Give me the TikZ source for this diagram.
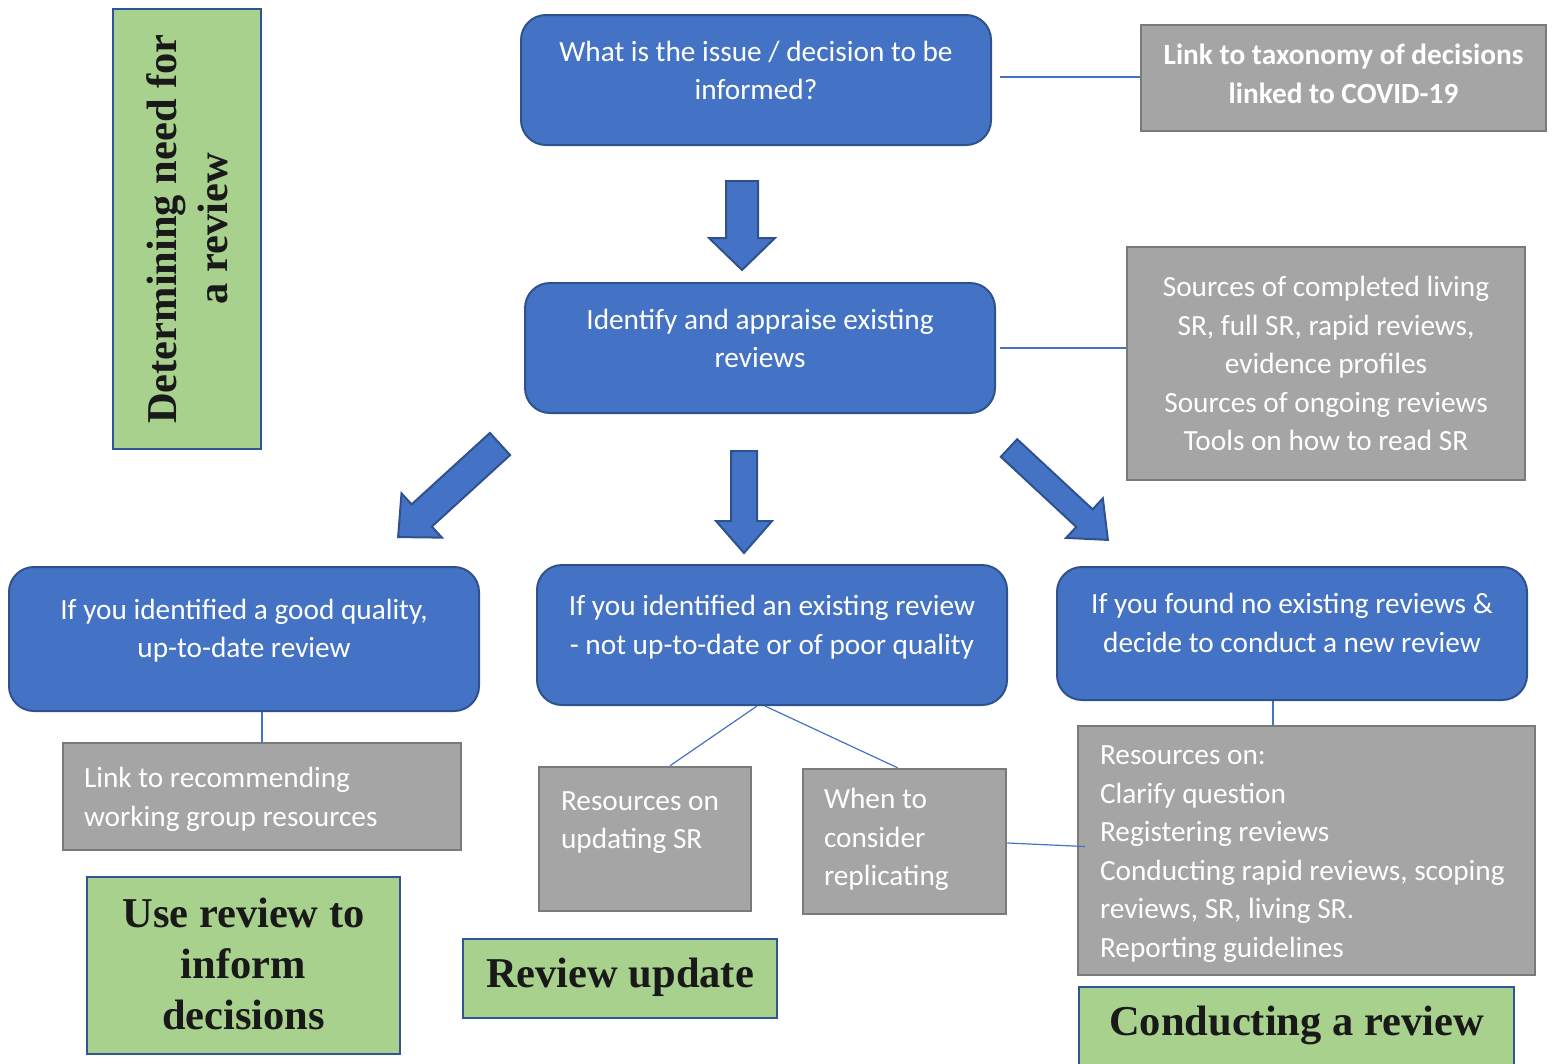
\documentclass[tikz,border=0pt]{standalone}
\usepackage{fontspec}
\setmainfont{Carlito}
\newfontfamily\titlefont{Liberation Serif}
\usetikzlibrary{calc}

\definecolor{boxblue}{HTML}{4472C4}
\definecolor{boxblueline}{HTML}{2F528F}
\definecolor{boxgray}{HTML}{A5A5A5}
\definecolor{boxgrayline}{HTML}{7A7A7A}
\definecolor{boxgreen}{HTML}{A9D18E}
\definecolor{boxgreenline}{HTML}{2F5597}

% centred / left text block, second argument lifts the text
\newcommand{\ctext}[3]{\parbox[c]{#1}{\centering #3\par\vspace*{#2}}}
\newcommand{\ltext}[3]{\parbox[c]{#1}{\raggedright #3\par\vspace*{#2}}}
% block arrow: tail x, tail y, angle, length, shaft half width, head half width
\newcommand{\fatarrow}[6]{%
  \draw[fatarrow,shift={(#1,#2)},rotate=#3] (0,#5) -- ({#4-32},#5) -- ({#4-32},#6)
    -- (#4,0) -- ({#4-32},-#6) -- ({#4-32},-#5) -- (0,-#5) -- cycle;}

\tikzset{
  bluebox/.style={draw=boxblueline,fill=boxblue,line width=2pt,rounded corners=25pt,
    inner sep=0pt,text=white,font=\fontsize{29.3}{38.5}\selectfont},
  graybox/.style={draw=boxgrayline,fill=boxgray,line width=2.5pt,
    inner sep=0pt,text=white,font=\fontsize{29.3}{38.5}\selectfont},
  greenbox/.style={draw=boxgreenline,fill=boxgreen,line width=2.5pt,
    inner sep=0pt,text=black!90,font=\titlefont\bfseries\fontsize{42.5}{51}\selectfont},
  joinline/.style={draw=boxblue,line width=1.2pt},
  fatarrow/.style={draw=boxblueline,fill=boxblue,line width=2pt,line join=miter}
}

\begin{document}
\begin{tikzpicture}[x=1pt,y=-1pt]
  \useasboundingbox (0,0) rectangle (1554,1063);
  % Stage labels
  \node[greenbox,rotate=90,minimum width=440pt,minimum height=148pt] (need) at (187,229)
    {\ctext{430pt}{0pt}{Determining need for\\a review}};
  \node[greenbox,minimum width=313pt,minimum height=177pt] (usedec) at (243.5,965.5)
    {\ctext{300pt}{4pt}{Use review to\\inform\\decisions}};
  \node[greenbox,minimum width=314pt,minimum height=79pt] (revupd) at (620,978.5)
    {\ctext{305pt}{3pt}{Review update}};
  \node[greenbox,minimum width=435pt,minimum height=92pt] (conduct) at (1296.5,1033)
    {\ctext{425pt}{16pt}{Conducting a review}};
  % Questions
  \node[bluebox,minimum width=470pt,minimum height=130pt] (issue) at (756,80)
    {\ctext{440pt}{19pt}{What is the issue / decision to be\\informed?}};
  \node[bluebox,minimum width=470pt,minimum height=130pt] (ident) at (760,348)
    {\ctext{440pt}{19pt}{Identify and appraise existing\\reviews}};
  \node[bluebox,minimum width=470pt,minimum height=144pt] (good) at (244,639)
    {\ctext{450pt}{17pt}{If you identified a good quality,\\up-to-date review}};
  \node[bluebox,minimum width=470pt,minimum height=140pt] (exist) at (772,635)
    {\ctext{450pt}{16pt}{If you identified an existing review\\- not up-to-date or of poor quality}};
  \node[bluebox,minimum width=470pt,minimum height=133pt] (newrev) at (1292,633.5)
    {\ctext{450pt}{21pt}{If you found no existing reviews \&\\decide to conduct a new review}};
  % Resources
  \node[graybox,minimum width=405pt,minimum height=106pt] (tax) at (1343.5,78)
    {\ctext{395pt}{8pt}{\bfseries Link to taxonomy of decisions\\linked to COVID-19}};
  \node[graybox,minimum width=398pt,minimum height=233pt] (src) at (1326,363.5)
    {\ctext{390pt}{0pt}{Sources of completed living\\SR, full SR, rapid reviews,\\evidence profiles\\Sources of ongoing reviews\\Tools on how to read SR}};
  \node[graybox,minimum width=398pt,minimum height=107pt] (link) at (262,796.5)
    {\ltext{356pt}{-6pt}{Link to recommending\\working group resources}};
  \node[graybox,minimum width=212pt,minimum height=144pt] (upd) at (645,839)
    {\ltext{168pt}{33pt}{Resources on\\updating SR}};
  \node[graybox,minimum width=203pt,minimum height=145pt] (repl) at (904.5,841.5)
    {\ltext{161pt}{4pt}{When to\\consider\\replicating}};
  \node[graybox,minimum width=457pt,minimum height=249pt] (res) at (1306.5,850.5)
    {\ltext{413pt}{-7pt}{Resources on:\\Clarify question\\Registering reviews\\Conducting rapid reviews, scoping\\reviews, SR, living SR.\\Reporting guidelines}};
  % Block arrows
  \fatarrow{742}{181}{-90}{89}{16}{33}
  \fatarrow{744}{451}{-90}{102}{13}{28}
  \fatarrow{500}{444}{-137.6}{138}{15}{30}
  \fatarrow{1009}{448}{-42.9}{135}{12}{27}
  % Thin links
  \coordinate (resjoin) at ([xshift=-19pt]newrev.south);
  \draw[joinline] ([xshift=8pt,yshift=3pt]issue.east) -- ([yshift=3pt]issue.east -| tax.west);
  \draw[joinline] ([xshift=4pt]ident.east) -- (ident.east -| src.west);
  \draw[joinline] (link.north) -- (link.north |- good.south);
  \draw[joinline] ([xshift=-15pt]exist.south) -- ([xshift=25pt]upd.north);
  \draw[joinline] ([xshift=-7pt]exist.south) -- ([xshift=-7pt]repl.north);
  \draw[joinline] (resjoin) -- (resjoin |- res.north);
  \draw[joinline] ([yshift=-1.5pt]repl.east) -- ([xshift=8pt,yshift=4pt]res.west);
\end{tikzpicture}
\end{document}
